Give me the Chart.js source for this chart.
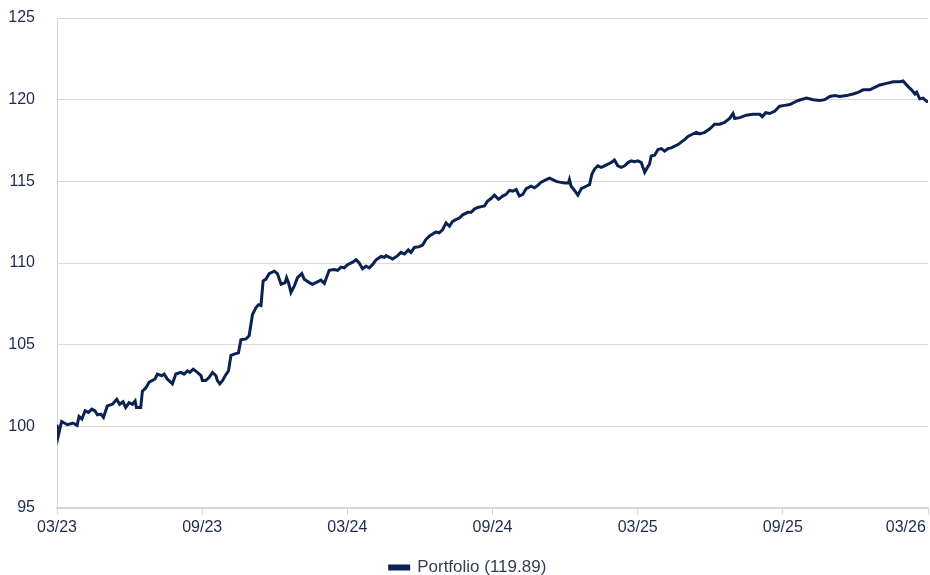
<!DOCTYPE html>
<html>
<head>
<meta charset="utf-8">
<script src="https://cdn.jsdelivr.net/npm/chart.js@4.4.1/dist/chart.umd.min.js"></script>
<style>
  html, body { margin: 0; padding: 0; background: #fff; }
  #wrap { width: 930px; height: 575px; }
</style>
</head>
<body>
<div id="wrap"><canvas id="perfChart"></canvas></div>
<script>

// months since 03/23 (x position of each reading)
const monthPos = [
  0, 0.05, 0.19, 0.43, 0.66, 0.83, 0.91, 1.03, 1.16, 1.30, 1.44, 1.57, 1.67, 1.81, 1.92,
  2.08, 2.29, 2.47, 2.59, 2.73, 2.84, 2.98, 3.12, 3.23, 3.28, 3.46, 3.53, 3.67, 3.81,
  4.05, 4.15, 4.33, 4.43, 4.56, 4.77, 4.91, 5.12, 5.25, 5.39, 5.49, 5.63, 5.80, 5.95,
  6.01, 6.15, 6.29, 6.43, 6.57, 6.63, 6.73, 6.84, 6.95, 7.09, 7.19, 7.39, 7.50, 7.60,
  7.81, 7.94, 8.08, 8.22, 8.33, 8.43, 8.52, 8.63, 8.77, 8.98, 9.11, 9.26, 9.43, 9.49,
  9.57, 9.67, 9.81, 9.94, 10.12, 10.22, 10.43, 10.56, 10.70, 10.91, 11.05, 11.25, 11.46,
  11.60, 11.74, 11.87, 12.01, 12.22, 12.36, 12.49, 12.63, 12.77, 12.91, 13.04, 13.19,
  13.39, 13.53, 13.60, 13.74, 13.87, 14.08, 14.22, 14.36, 14.52, 14.63, 14.77, 14.98,
  15.11, 15.25, 15.39, 15.49, 15.67, 15.80, 15.94, 16.08, 16.22, 16.35, 16.49, 16.63,
  16.77, 16.98, 17.12, 17.25, 17.39, 17.53, 17.67, 17.80, 17.94, 18.08, 18.25, 18.42,
  18.56, 18.70, 18.84, 18.98, 19.11, 19.25, 19.39, 19.60, 19.74, 19.87, 20.01, 20.22,
  20.36, 20.49, 20.63, 20.77, 20.98, 21.14, 21.18, 21.25, 21.39, 21.53, 21.67, 21.87,
  22.01, 22.11, 22.22, 22.35, 22.49, 22.63, 22.77, 22.91, 23.04, 23.18, 23.32, 23.46,
  23.60, 23.73, 23.87, 24.01, 24.15, 24.29, 24.40, 24.49, 24.56, 24.70, 24.84, 24.98,
  25.11, 25.25, 25.39, 25.53, 25.67, 25.80, 25.94, 26.08, 26.28, 26.42, 26.56, 26.77,
  26.97, 27.18, 27.39, 27.59, 27.80, 27.94, 28.01, 28.22, 28.49, 28.77, 29.05, 29.15,
  29.29, 29.46, 29.67, 29.87, 30.08, 30.29, 30.63, 30.98, 31.25, 31.53, 31.73, 31.94,
  32.15, 32.35, 32.63, 32.90, 33.11, 33.32, 33.59, 33.80, 34.01, 34.29, 34.56, 34.84,
  34.97, 35.09, 35.18, 35.32, 35.46, 35.53, 35.66, 35.80, 35.94, 36
]

const portfolio = [
  100.1, 99.4, 100.3, 100.1, 100.2, 100.05, 100.6, 100.45, 100.95, 100.85, 101.05, 100.95, 100.7, 100.75, 100.55,
  101.25, 101.35, 101.65, 101.35, 101.5, 101.15, 101.45, 101.35, 101.55, 101.15, 101.15, 102.15, 102.35, 102.7,
  102.9, 103.2, 103.1, 103.2, 102.9, 102.6, 103.2, 103.3, 103.2, 103.4, 103.3, 103.5, 103.3, 103.1,
  102.8, 102.8, 103.0, 103.3, 103.1, 102.8, 102.6, 102.8, 103.1, 103.4, 104.35, 104.45, 104.5, 105.3,
  105.35, 105.55, 106.85, 107.25, 107.45, 107.4, 108.9, 109.0, 109.35, 109.5, 109.35, 108.7, 108.8, 109.1,
  108.8, 108.2, 108.6, 109.1, 109.35, 109.0, 108.8, 108.7, 108.8, 108.95, 108.75, 109.55, 109.6,
  109.55, 109.75, 109.7, 109.9, 110.05, 110.2, 110.0, 109.65, 109.8, 109.7, 109.9, 110.2,
  110.4, 110.35, 110.45, 110.35, 110.25, 110.45, 110.65, 110.55, 110.8, 110.65, 110.95, 111.0,
  111.1, 111.45, 111.65, 111.75, 111.9, 111.85, 112.05, 112.45, 112.25, 112.55, 112.65, 112.75,
  112.95, 113.1, 113.1, 113.3, 113.4, 113.45, 113.5, 113.8, 113.95, 114.15, 113.9, 114.1,
  114.2, 114.45, 114.4, 114.5, 114.1, 114.2, 114.55, 114.7, 114.6, 114.75, 114.95, 115.1,
  115.2, 115.1, 115.0, 114.95, 114.9, 114.9, 115.1, 114.7, 114.45, 114.15, 114.55, 114.7,
  114.8, 115.45, 115.75, 115.95, 115.85, 115.95, 116.05, 116.15, 116.3, 115.95, 115.85, 115.95,
  116.15, 116.25, 116.2, 116.25, 116.15, 115.55, 115.85, 116.05, 116.55, 116.6, 116.95, 117.0,
  116.85, 117.0, 117.05, 117.15, 117.25, 117.4, 117.55, 117.75, 117.9, 118.0, 117.9, 118.0,
  118.2, 118.5, 118.5, 118.6, 118.85, 119.15, 118.85, 118.9, 119.05, 119.1, 119.1, 118.95,
  119.2, 119.15, 119.3, 119.6, 119.65, 119.7, 119.95, 120.1, 120.0, 119.95, 120.0, 120.2,
  120.25, 120.2, 120.25, 120.35, 120.45, 120.6, 120.6, 120.75, 120.9, 121.0, 121.1, 121.1,
  121.15, 120.95, 120.8, 120.6, 120.35, 120.45, 120.05, 120.1, 119.9, 119.89
]

const tickLabels = ['03/23', '09/23', '03/24', '09/24', '03/25', '09/25', '03/26']
const seriesName = 'Portfolio'

const navy = '#0b2152'
const textCol = '#1e2b4f'
const fontFam = '"Liberation Sans", Arial, sans-serif'

let points = monthPos.map((m, i) => ({ x: m, y: portfolio[i] }))

let perfChart = new Chart("perfChart", {
  type: "line",
  data: {
    datasets: [{
      label: seriesName + ' (' + portfolio[portfolio.length - 1].toFixed(2) + ')',
      data: points,
      borderColor: navy,
      backgroundColor: navy,
      borderWidth: 3,
      pointRadius: 0,
      tension: 0,
      fill: false
    }]
  },
  options: {
    responsive: true,
    maintainAspectRatio: false,
    animation: false,
    layout: { padding: { left: 8, right: 2, top: 18, bottom: -11 } },
    plugins: {
      tooltip: { enabled: false },
      legend: {
        display: true,
        position: 'bottom',
        labels: {
          boxWidth: 19,
          boxHeight: 3,
          padding: 2,
          color: '#333c52',
          font: { family: fontFam, size: 17 }
        }
      }
    },
    scales: {
      x: {
        type: 'linear',
        min: 0,
        max: 36,
        afterFit: s => {
          s.paddingLeft = 0
          s.paddingRight = 0
          s.height = 49
        },
        afterBuildTicks: s => { s.ticks = tickLabels.map((t, i) => ({ value: i * 6 })) },
        ticks: {
          stepSize: 6,
          maxRotation: 0,
          autoSkip: false,
          padding: 3,
          color: textCol,
          font: { family: fontFam, size: 16 },
          // last label sits inside the right edge, so pad it with spaces
          callback: (v) => {
            let i = Math.round(v / 6)
            return i === tickLabels.length - 1 ? tickLabels[i] + '          ' : tickLabels[i]
          }
        },
        grid: {
          drawOnChartArea: false,
          drawTicks: true,
          tickLength: 7,
          color: '#cdd6ea'
        },
        border: { color: '#d6d6d6', width: 2 }
      },
      y: {
        min: 95,
        max: 125,
        afterFit: s => {
          s.paddingTop = 0
          s.paddingBottom = 0
          s.width = 49
        },
        ticks: {
          stepSize: 5,
          padding: 22,
          color: textCol,
          font: { family: fontFam, size: 16 }
        },
        grid: {
          drawTicks: false,
          color: '#d9d9d9',
          lineWidth: 1
        },
        border: { color: '#d6d6d6', width: 1 }
      }
    }
  }
});

</script>
</body>
</html>
